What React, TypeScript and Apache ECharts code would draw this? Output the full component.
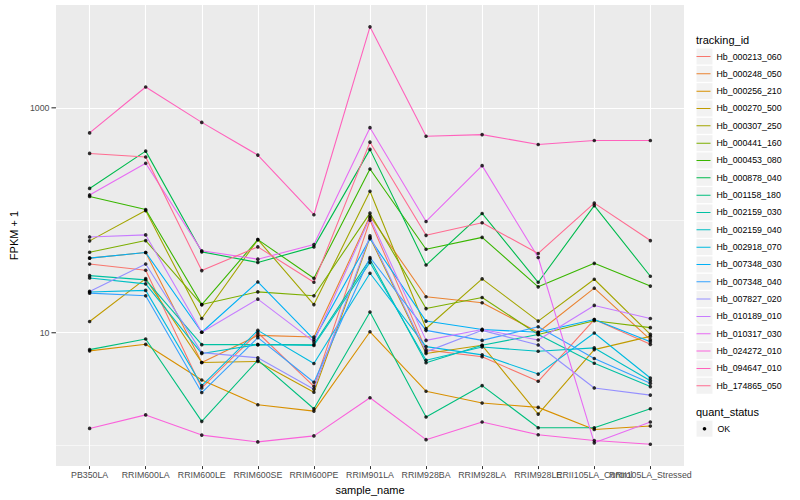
import React, { useEffect, useRef } from "react";
import * as echarts from "echarts";

const categories = [
  "PB350LA", "RRIM600LA", "RRIM600LE", "RRIM600SE", "RRIM600PE", "RRIM901LA",
  "RRIM928BA", "RRIM928LA", "RRIM928LE", "RRII105LA_Control", "RRII105LA_Stressed",
];

const trackingIds = [
  "Hb_000213_060", "Hb_000248_050", "Hb_000256_210", "Hb_000270_500", "Hb_000307_250",
  "Hb_000441_160", "Hb_000453_080", "Hb_000878_040", "Hb_001158_180", "Hb_002159_030",
  "Hb_002159_040", "Hb_002918_070", "Hb_007348_030", "Hb_007348_040", "Hb_007827_020",
  "Hb_010189_010", "Hb_010317_030", "Hb_024272_010", "Hb_094647_010", "Hb_174865_050",
];

const palette = [
  "#F8766D", "#EA8331", "#D89000", "#C09B00", "#A3A500", "#7CAE00", "#39B600", "#00BB4E",
  "#00BF7D", "#00C1A3", "#00BFC4", "#00BAE0", "#00B0F6", "#35A2FF", "#9590FF", "#C77CFF",
  "#E76BF3", "#FA62DB", "#FF62BC", "#FF6C91",
];

// FPKM + 1 values per sample (same order as categories)
const Hb_000213_060 = [40.8, 35.9, 3.23, 10, 3.34, 100, 7.04, 6.11, 3.7, 13.1, 7.89];
const Hb_000248_050 = [46.1, 51.7, 5.44, 9.47, 9.17, 109, 20.9, 18.5, 10.1, 24.9, 8.68];
const Hb_000256_210 = [6.9, 7.89, 3.8, 2.29, 2.01, 10.2, 3.02, 2.37, 2.17, 1.38, 1.48];
const Hb_000270_500 = [12.6, 30.3, 5.44, 5.55, 2.96, 70.1, 6.53, 7.73, 1.89, 7.08, 9.28];
const Hb_000307_250 = [65.6, 122, 13.4, 67.3, 17.8, 181, 10.9, 30.1, 12.7, 29.9, 9.66];
const Hb_000441_160 = [52, 66, 17.8, 23.1, 21.3, 115.7, 16.4, 20.6, 9.66, 12.8, 11.1];
const Hb_000453_080 = [163, 124.5, 17.8, 67.3, 30.5, 286, 55.3, 70.5, 25.6, 41.4, 26];
const Hb_000878_040 = [192, 412, 52.4, 42.2, 58, 427, 40, 115, 28.1, 135, 31.8];
const Hb_001158_180 = [7.08, 8.8, 1.63, 5.7, 2.11, 15.3, 1.78, 3.39, 1.43, 1.43, 2.11];
const Hb_002159_030 = [32.2, 29.5, 7.84, 7.84, 7.89, 45.1, 5.41, 7.73, 9.66, 5.36, 3.32];
const Hb_002159_040 = [30.7, 27.2, 6.53, 7.84, 7.7, 42.2, 5.7, 7.48, 6.84, 7.33, 3.75];
const Hb_002918_070 = [23, 23.8, 3.39, 10.5, 5.33, 33.8, 7.53, 6.36, 4.29, 9.94, 3.96];
const Hb_007348_030 = [46.1, 51.7, 10.1, 28.3, 8.73, 68.7, 12.7, 10.7, 10.1, 13.1, 8.33];
const Hb_007348_040 = [22.5, 21.3, 2.94, 9.04, 3.63, 46.7, 10.5, 8.55, 11.3, 5.9, 3.55];
const Hb_007827_020 = [23.3, 40.8, 6.66, 5.99, 3.15, 72.6, 6.76, 10.5, 7.79, 3.23, 2.79];
const Hb_010189_010 = [71.1, 74.1, 10.1, 19.9, 8.33, 105, 8.55, 10.7, 8.62, 17.5, 13.4];
const Hb_010317_030 = [168, 321, 53.5, 45.1, 60.8, 666, 97.6, 306, 46.7, 1.05, 1.61];
const Hb_024272_010 = [1.41, 1.86, 1.23, 1.07, 1.21, 2.64, 1.12, 1.61, 1.24, 1.1, 1.02];
const Hb_094647_010 = [598, 1531, 742, 380, 112, 5246, 559, 578, 472, 512, 512];
const Hb_174865_050 = [393, 365, 35.7, 58, 28.1, 495, 73.5, 95, 50.7, 142, 66];

const seriesValues = [
  Hb_000213_060, Hb_000248_050, Hb_000256_210, Hb_000270_500, Hb_000307_250,
  Hb_000441_160, Hb_000453_080, Hb_000878_040, Hb_001158_180, Hb_002159_030,
  Hb_002159_040, Hb_002918_070, Hb_007348_030, Hb_007348_040, Hb_007827_020,
  Hb_010189_010, Hb_010317_030, Hb_024272_010, Hb_094647_010, Hb_174865_050,
];

const yTickLabels = [10, 1000];
const yMajorLines = [10, 1000];
const yMinorLines = [1, 100];
const yMin = 0.652;
const yMax = 8207;

const FONT = "'Liberation Sans', Arial, Helvetica, sans-serif";

// legend key line icon; tiny invisible corners keep the icon box 16 px tall
const LINE_ICON =
  "path://M0,-7.5L0.01,-7.5L0.01,-7.49Z M0,0L14,0L14,1L0,1Z M0,8.5L0.01,8.5L0.01,8.49Z";

export default function App() {
  const ref = useRef<HTMLDivElement>(null);

  useEffect(() => {
    if (!ref.current) return;
    const chart = echarts.init(ref.current, undefined, { renderer: "svg" });

    const lineSeries = trackingIds.map((id, k) => ({
      name: id,
      type: "line",
      xAxisIndex: 0,
      data: seriesValues[k].map((v, i) => [i, v]),
      showSymbol: false,
      symbol: "none",
      lineStyle: { color: palette[k], width: 1.1 },
      itemStyle: { color: palette[k] },
      z: 3,
      silent: true,
      emphasis: { disabled: true },
    }));

    const points: number[][] = [];
    seriesValues.forEach((vals) => vals.forEach((v, i) => points.push([i, v])));

    const gridLines = {
      name: "__grid",
      type: "line",
      xAxisIndex: 0,
      data: [],
      silent: true,
      markLine: {
        silent: true,
        symbol: ["none", "none"],
        label: { show: false },
        z: 1,
        data: [
          ...yMinorLines.map((v) => ({ yAxis: v, lineStyle: { color: "#FFFFFF", width: 0.55, type: "solid" } })),
          ...yMajorLines.map((v) => ({ yAxis: v, lineStyle: { color: "#FFFFFF", width: 1.1, type: "solid" } })),
        ],
      },
    };

    const idx = categories.map((_, i) => i);
    // labels are split over two axes so that overlapping labels are all kept, as in the reference
    const labelIdxA = idx.filter((i) => i !== 9);
    const labelIdxB = [9];

    const catFormatter = (v: number) =>
      Math.abs(v - Math.round(v)) < 1e-6 && categories[Math.round(v)] ? categories[Math.round(v)] : "";

    const xLabelStyle = {
      formatter: catFormatter,
      color: "#4D4D4D",
      fontSize: 8.8,
      fontFamily: FONT,
      margin: 4,
      hideOverlap: false,
      showMinLabel: true,
      showMaxLabel: true,
    };

    const legendCommon = {
      orient: "vertical",
      left: 696.5,
      top: 48.5,
      padding: 0,
      itemWidth: 16,
      itemHeight: 16,
      itemGap: 1.33,
      selectedMode: false,
    };

    const option: any = {
      animation: false,
      backgroundColor: "#FFFFFF",
      textStyle: { fontFamily: FONT },
      grid: {
        left: 45, right: 116, top: 5, bottom: 31.7,
        show: true, backgroundColor: "#EBEBEB", borderWidth: 0,
      },
      xAxis: [
        {
          type: "value",
          position: "bottom",
          min: -0.6,
          max: 10.6,
          splitNumber: 11,
          name: "sample_name",
          nameLocation: "middle",
          nameGap: 13,
          nameTextStyle: { color: "#000000", fontSize: 11, fontFamily: FONT },
          axisLine: { show: false },
          axisTick: { show: true, length: 3, lineStyle: { color: "#333333", width: 1 }, customValues: idx },
          axisLabel: { ...xLabelStyle, customValues: labelIdxA },
          splitLine: { show: true, lineStyle: { color: "#FFFFFF", width: 1.1 } },
        },
        {
          type: "value",
          position: "bottom",
          offset: 0,
          min: -0.6,
          max: 10.6,
          splitNumber: 11,
          axisLine: { show: false },
          axisTick: { show: false, customValues: labelIdxB },
          axisLabel: { ...xLabelStyle, customValues: labelIdxB },
          splitLine: { show: false },
        },
      ],
      yAxis: {
        type: "log",
        logBase: 10,
        min: yMin,
        max: yMax,
        name: "FPKM + 1",
        nameLocation: "middle",
        nameGap: 33,
        nameRotate: 90,
        nameTextStyle: { color: "#000000", fontSize: 11, fontFamily: FONT },
        axisLine: { show: false },
        axisTick: { show: false },
        splitLine: { show: false },
        axisLabel: {
          margin: 0,
          showMinLabel: true,
          showMaxLabel: true,
          formatter: (v: number) => {
            const t = yTickLabels.find((x) => Math.abs(v - x) / x < 1e-6);
            return t !== undefined ? `{v|${t}}{g| }{t| }` : "";
          },
          rich: {
            v: { color: "#4D4D4D", fontSize: 8.8, fontFamily: FONT, verticalAlign: "middle" },
            g: { width: 2, fontSize: 8.8, verticalAlign: "middle" },
            t: { width: 4.5, height: 1.1, backgroundColor: "#333333", fontSize: 1, verticalAlign: "middle" },
          },
        },
      },
      legend: [
        {
          ...legendCommon,
          icon: "rect",
          itemStyle: { color: "#F2F2F2", borderWidth: 0, borderColor: "transparent" },
          textStyle: { color: "rgba(0,0,0,0)", fontSize: 8.8, fontFamily: FONT },
          data: trackingIds,
          z: 1,
        },
        {
          ...legendCommon,
          icon: LINE_ICON,
          textStyle: { color: "#000000", fontSize: 8.8, fontFamily: FONT },
          data: trackingIds.map((id, k) => ({
            name: id,
            itemStyle: { color: palette[k], borderWidth: 0, borderColor: "transparent" },
          })),
          z: 2,
        },
      ],
      graphic: [
        { type: "text", left: 696, top: 34.5, style: { text: "tracking_id", fontSize: 11, fontFamily: FONT, fill: "#000000" } },
        { type: "text", left: 696, top: 406.5, style: { text: "quant_status", fontSize: 11, fontFamily: FONT, fill: "#000000" } },
        { type: "rect", shape: { x: 696.5, y: 420.7, width: 16, height: 16 }, style: { fill: "#F2F2F2" } },
        { type: "circle", shape: { cx: 704.5, cy: 428.7, r: 1.8 }, style: { fill: "#000000" } },
        {
          type: "text", x: 717.5, y: 428.7,
          style: { text: "OK", fontSize: 8.8, fontFamily: FONT, fill: "#000000", verticalAlign: "middle" },
        },
      ],
      series: [
        gridLines,
        ...lineSeries,
        {
          name: "OK",
          type: "scatter",
          xAxisIndex: 0,
          data: points,
          symbol: "circle",
          symbolSize: 3.6,
          itemStyle: { color: "#000000" },
          z: 4,
          silent: true,
        },
      ],
    };

    chart.setOption(option);
    return () => chart.dispose();
  }, []);

  return (
    <div
      ref={ref}
      style={{ position: "fixed", left: 0, top: 0, width: 800, height: 500 }}
    />
  );
}
